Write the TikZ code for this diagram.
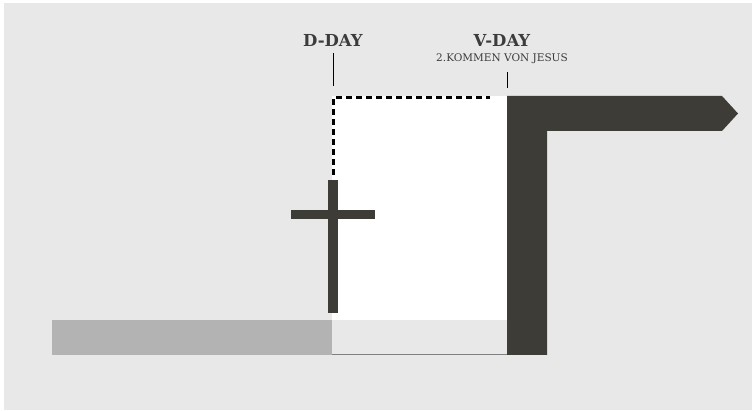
\documentclass[tikz,border=0pt]{standalone}
\usepackage{fontspec}
\setmainfont{DejaVu Serif}
\usepackage{tikz}
\usetikzlibrary{positioning}
\definecolor{tlbg}{RGB}{232,232,232}
\definecolor{tldark}{RGB}{61,60,55}
\definecolor{tlpast}{RGB}{179,179,179}
\definecolor{tltext}{RGB}{60,60,60}

\begin{document}
\begin{tikzpicture}[x=1pt,y=-1pt,
    daylabel/.style={font=\bfseries\fontsize{16.5}{16.5}\selectfont,text=tltext,inner sep=0pt},
    sublabel/.style={font=\fontsize{10.5}{11}\selectfont,text=tltext,inner sep=0pt},
    tick/.style={draw=black,line width=0.8pt}]
  \useasboundingbox (0,0) rectangle (753,411);
  \fill[white] (0,0) rectangle (753,411);
  \fill[tlbg] (4,3) rectangle (752,410);
  % past and interim period
  \fill[tlpast] (52,320) rectangle (332,355);
  \fill[white] (332,96) rectangle (507,320);
  \draw[gray,line width=1pt] (332,355) -- (507,355);
  % kingdom arrow
  \fill[tldark] (507,96) -- (722,96) -- (738,113.5) -- (722,131) -- (547,131)
    -- (547,355) -- (507,355) -- cycle;
  % cross
  \fill[tldark] (328,180) rectangle (338,313);
  \fill[tldark] (291,210) rectangle (375,219);
  \draw[black,line width=3.5pt,dash pattern=on 6pt off 4pt] (333.5,175) -- (333.5,97.5) -- (490,97.5);
  % labels
  \node[daylabel] (dday) at (333,40) {D-DAY};
  \node[daylabel] (vday) at (502,40) {V-DAY};
  \node[sublabel,below=7pt of vday] (second) {2.KOMMEN VON JESUS};
  \coordinate (ddaytick) at (333,86);
  \coordinate (vdaytop) at (507,72);
  \coordinate (vdaytick) at (507,88);
  \draw[tick] (333,53) -- (ddaytick);
  \draw[tick] (vdaytop) -- (vdaytick);
\end{tikzpicture}
\end{document}
